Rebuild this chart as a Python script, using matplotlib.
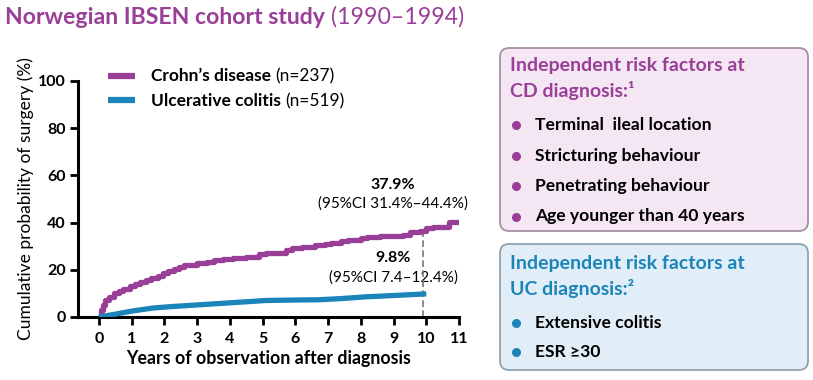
import numpy as np
import matplotlib
matplotlib.use("Agg")
import matplotlib.pyplot as plt
from matplotlib.patches import FancyBboxPatch

plt.rcParams["font.family"] = ["Lato", "DejaVu Sans"]

# Kaplan-Meier style cumulative surgery curves
cd_years = [0, 0.05, 0.12, 0.2, 0.3, 0.45, 0.6, 0.75, 0.95, 1.1, 1.25, 1.45, 1.6, 1.8,
            1.95, 2.1, 2.3, 2.45, 2.6, 3.0, 3.3, 3.5, 3.8, 4.1, 4.5, 4.9, 5.1, 5.5,
            5.7, 5.9, 6.2, 6.6, 6.9, 7.1, 7.4, 7.6, 8.0, 8.2, 8.6, 9.3, 9.5, 9.8,
            10.0, 10.2, 10.7, 11.0]
cd_surgery = [0, 3, 5, 7, 8.5, 10, 11, 12, 13, 14, 15, 15.8, 16.5, 17.5,
              18.6, 19.3, 20.3, 21, 22, 22.8, 23.5, 24.2, 24.6, 25, 25.6, 26.5, 27, 27.3,
              28.2, 29.2, 29.6, 30.3, 30.8, 31.5, 32.1, 32.7, 33.3, 33.8, 34.4, 34.8, 36.2, 36.6,
              37.6, 38.0, 40.2, 40.2]
uc_years = [0, 0.5, 1.0, 1.65, 2.2, 3.1, 4.0, 5.1, 6.0, 6.7, 7.4, 8.1, 9.0, 9.85, 10.0]
uc_surgery = [0, 1.2, 2.5, 3.8, 4.4, 5.2, 6.0, 7.0, 7.2, 7.3, 7.8, 8.5, 9.1, 9.7, 9.8]

x_ticks = list(range(0, 12))
y_ticks = [0, 20, 40, 60, 80, 100]

cd_bullets = ["Terminal  ileal location", "Stricturing behaviour",
              "Penetrating behaviour", "Age younger than 40 years"]
uc_bullets = ["Extensive colitis", "ESR \u226530"]

purple = "#9A3F98"
blue = "#1B84B9"

W, H = 813, 380
fig = plt.figure(figsize=(W / 100, H / 100), dpi=100)
renderer = fig.canvas.get_renderer()

# pixel-coordinate overlay for text and boxes
ov = fig.add_axes([0, 0, 1, 1])
ov.set_xlim(0, W)
ov.set_ylim(H, 0)
ov.axis("off")


def text_run(x, y, parts, **kw):
    """Draw (string, weight) pieces one after another on a line."""
    for s, weight in parts:
        t = ov.text(x, y, s, fontweight=weight, va="center", ha="left", **kw)
        bb = t.get_window_extent(renderer)
        x += bb.width


# main plot
ax = fig.add_axes([78 / W, 1 - 317 / H, (459 - 78) / W, (317 - 81) / H])
ax.plot(cd_years, cd_surgery, color=purple, lw=3.8, drawstyle="steps-post",
        solid_capstyle="butt", zorder=3)
ax.plot(uc_years, uc_surgery, color=blue, lw=3.8, solid_capstyle="butt", zorder=3)
ax.plot([9.9, 9.9], [0, 36.6], color="#777777", lw=1.2, ls=(0, (4, 2)), zorder=2)

ax.set_xlim(-0.64, 11)
ax.set_ylim(0, 100)
ax.set_xticks(x_ticks)
ax.set_yticks(y_ticks)
for s in ["top", "right"]:
    ax.spines[s].set_visible(False)
for s in ["left", "bottom"]:
    ax.spines[s].set_linewidth(2.2)
ax.tick_params(axis="both", width=2, length=6, labelsize=11.5, pad=3)
ax.tick_params(axis="x", pad=5)
for lab in ax.get_xticklabels() + ax.get_yticklabels():
    lab.set_fontweight("bold")
ax.set_ylabel("Cumulative probability of surgery (%)", fontsize=12.5, labelpad=3)
ax.set_xlabel("Years of observation after diagnosis", fontsize=12.8,
              fontweight="bold", labelpad=3)
ax.patch.set_alpha(0)

# title
text_run(5, 17, [("Norwegian IBSEN cohort study ", "bold"), ("(1990\u20131994)", "normal")],
         color=purple, fontsize=16.6)

# legend
ov.plot([108, 135], [76, 76], color=purple, lw=4.5, solid_capstyle="butt")
ov.plot([108, 135], [100, 100], color=blue, lw=4.5, solid_capstyle="butt")
text_run(151, 76, [("Crohn\u2019s disease ", "bold"), ("(n=237)", "normal")], fontsize=12.5)
text_run(151, 101, [("Ulcerative colitis ", "bold"), ("(n=519)", "normal")], fontsize=12.5)

# annotations
ov.text(393, 185, "37.9%", fontsize=11.5, fontweight="bold", ha="center", va="center")
ov.text(393, 204, "(95%CI 31.4%\u201344.4%)", fontsize=11, ha="center", va="center")
ov.text(393, 258, "9.8%", fontsize=11.5, fontweight="bold", ha="center", va="center")
ov.text(393, 278, "(95%CI 7.4\u201312.4%)", fontsize=11, ha="center", va="center")

# risk factor boxes
box1 = FancyBboxPatch((500, 48), 308, 183, boxstyle="round,pad=0,rounding_size=9",
                      fc="#F4E7F3", ec="#A58FA6", lw=1.3)
box2 = FancyBboxPatch((500, 244), 308, 126, boxstyle="round,pad=0,rounding_size=9",
                      fc="#E2EEF7", ec="#8FA3B1", lw=1.3)
ov.add_patch(box1)
ov.add_patch(box2)

ov.text(510, 66, "Independent risk factors at", color=purple, fontsize=14,
        fontweight="bold", va="center")
ov.text(510, 91, "CD diagnosis:\u00b9", color=purple, fontsize=14,
        fontweight="bold", va="center")
for i, item in enumerate(cd_bullets):
    y = 125 + i * 30.5
    ov.plot(516, y, "o", color=purple, ms=5.5)
    ov.text(535, y, item, fontsize=12.6, fontweight="bold", va="center")

ov.text(510, 263, "Independent risk factors at", color=blue, fontsize=14,
        fontweight="bold", va="center")
ov.text(510, 288, "UC diagnosis:\u00b2", color=blue, fontsize=14,
        fontweight="bold", va="center")
for i, item in enumerate(uc_bullets):
    y = 323 + i * 29
    ov.plot(516, y, "o", color=blue, ms=5.5)
    ov.text(535, y, item, fontsize=12.6, fontweight="bold", va="center")

fig.savefig("out.png", dpi=100)
